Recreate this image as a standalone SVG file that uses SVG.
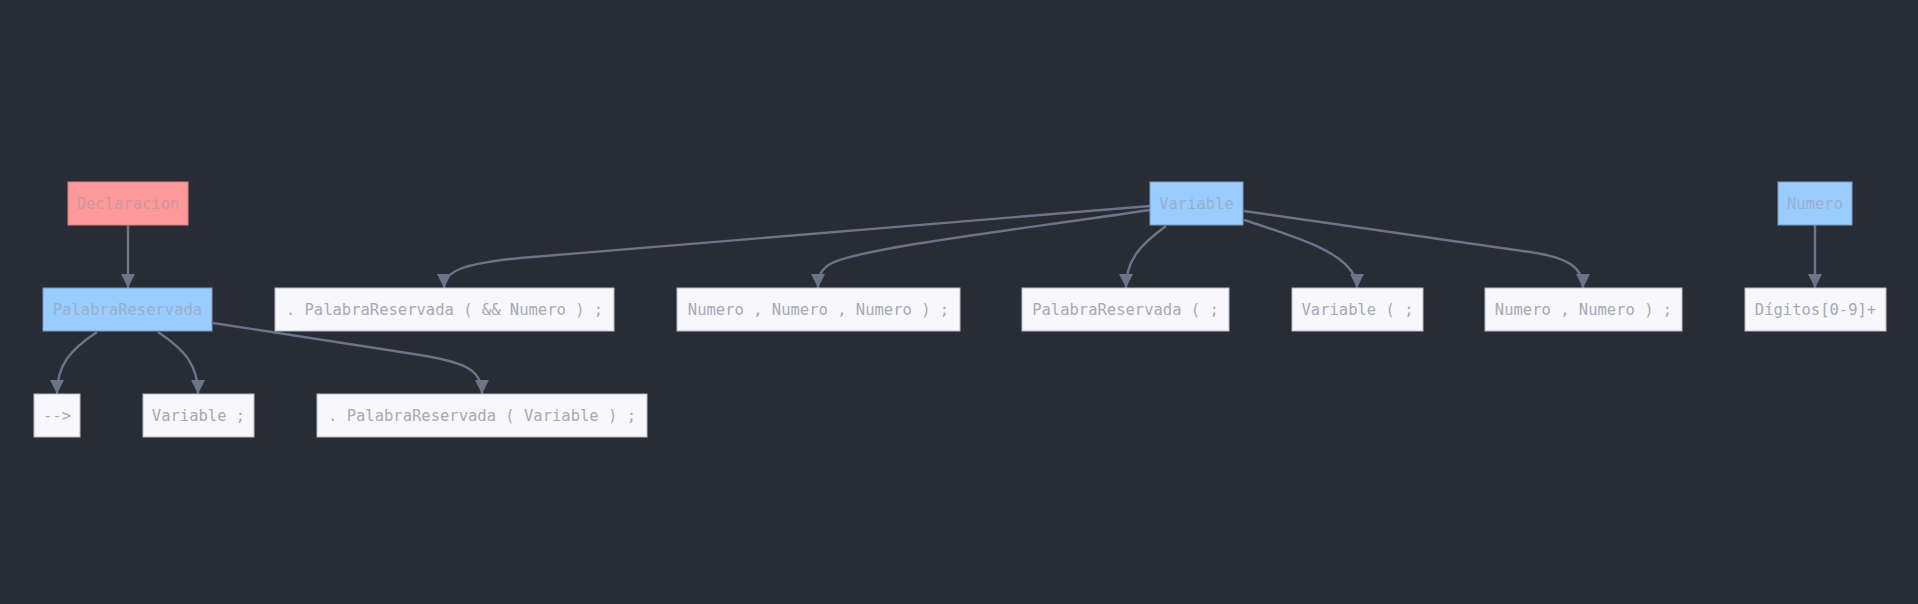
<svg xmlns="http://www.w3.org/2000/svg" width="1918" height="604" viewBox="0 0 1918 604">
<defs>
<style>
.bg{fill:#282c34}
.n rect{stroke-width:1}
.red rect{fill:#ff9999;stroke:#d98080}
.blue rect{fill:#99ccff;stroke:#7a9cc0}
.term rect{fill:#f8f8fc;stroke:#b8bcc8}
.n text{font-family:"DejaVu Sans Mono","Liberation Mono",monospace;font-size:15.5px;fill:#a6a9b6;text-anchor:middle}
.red text{fill:#c89aa0}
.blue text{fill:#9bb0c8}
.e path{fill:none;stroke:#6b7489;stroke-width:2.4}
</style>
<marker id="arr" viewBox="0 0 10 10" refX="10" refY="5" markerUnits="userSpaceOnUse" markerWidth="14" markerHeight="15" orient="auto">
<path d="M0,0 L10,5 L0,10 z" fill="#6b7489"/>
</marker>
</defs>
<rect class="bg" x="0" y="0" width="1918" height="604"/>
<g id="connectors" class="e">
<path marker-end="url(#arr)" d="M128,225 L128,288"/>
<path marker-end="url(#arr)" d="M97,332 C70,350 57,365 57,394"/>
<path marker-end="url(#arr)" d="M158,332 C185,350 198,365 198,394"/>
<path marker-end="url(#arr)" d="M213,323 L420,355 C470,363 482,372 482,394"/>
<path marker-end="url(#arr)" d="M1150,206 L520,258 C460,264 444,272 444,288"/>
<path marker-end="url(#arr)" d="M1150,210 C1000,232 860,248 830,264 C820,270 818,278 818,288"/>
<path marker-end="url(#arr)" d="M1166,226 C1140,245 1126,260 1126,288"/>
<path marker-end="url(#arr)" d="M1244,220 C1300,238 1357,255 1357,288"/>
<path marker-end="url(#arr)" d="M1244,211 L1530,252 C1570,258 1583,268 1583,288"/>
<path marker-end="url(#arr)" d="M1815,225 L1815,288"/>
</g>
<g id="Declaracion" class="n red"><rect x="68" y="182" width="120" height="43"/><text x="128" y="209">Declaracion</text></g>
<g id="PalabraReservada" class="n blue"><rect x="43" y="288" width="169" height="43"/><text x="127.5" y="315">PalabraReservada</text></g>
<g id="Variable" class="n blue"><rect x="1150" y="182" width="93" height="43"/><text x="1196.5" y="209">Variable</text></g>
<g id="Numero" class="n blue"><rect x="1778" y="182" width="74" height="43"/><text x="1815" y="209">Numero</text></g>
<g id="t_arrow" class="n term"><rect x="34" y="394" width="46" height="43"/><text x="57" y="421">--&gt;</text></g>
<g id="t_varsemi" class="n term"><rect x="143" y="394" width="111" height="43"/><text x="198.5" y="421">Variable ;</text></g>
<g id="t_prvar" class="n term"><rect x="317" y="394" width="330" height="43"/><text x="482" y="421">. PalabraReservada ( Variable ) ;</text></g>
<g id="t_prnum" class="n term"><rect x="275" y="288" width="339" height="43"/><text x="444.5" y="315">. PalabraReservada ( &amp;&amp; Numero ) ;</text></g>
<g id="t_num3" class="n term"><rect x="677" y="288" width="283" height="43"/><text x="818.5" y="315">Numero , Numero , Numero ) ;</text></g>
<g id="t_prparen" class="n term"><rect x="1022" y="288" width="207" height="43"/><text x="1125.5" y="315">PalabraReservada ( ;</text></g>
<g id="t_varparen" class="n term"><rect x="1292" y="288" width="131" height="43"/><text x="1357.5" y="315">Variable ( ;</text></g>
<g id="t_num2" class="n term"><rect x="1485" y="288" width="197" height="43"/><text x="1583.5" y="315">Numero , Numero ) ;</text></g>
<g id="t_digitos" class="n term"><rect x="1745" y="288" width="141" height="43"/><text x="1815.5" y="315">Dígitos[0-9]+</text></g>
</svg>
